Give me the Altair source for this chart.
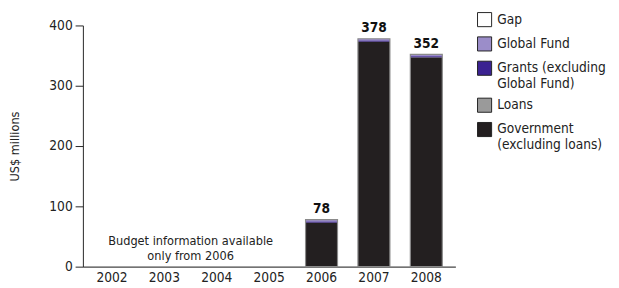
import altair as alt
import pandas as pd

years = ["2002", "2003", "2004", "2005", "2006", "2007", "2008"]
bar_years = ["2006", "2007", "2008"]
government = [73, 373, 347]
loans = [0, 0, 0]
grants = [2, 2, 2]
global_fund = [3, 3, 3]
gap = [0, 0, 0]
totals = [78, 378, 352]

series = ["Gap", "Global Fund", "Grants (excluding|Global Fund)", "Loans", "Government|(excluding loans)"]
colors = ["#ffffff", "#9b8dc9", "#3b2291", "#9a9a9a", "#231f20"]
stack_rank = {s: i for i, s in enumerate(reversed(series))}

rows = []
for i, y in enumerate(bar_years):
    for name, vals in zip(series, [gap, global_fund, grants, loans, government]):
        rows.append({"year": y, "series": name, "value": vals[i], "rank": stack_rank[name]})
df = pd.DataFrame(rows)
tot = pd.DataFrame({"year": bar_years, "total": totals})
note = pd.DataFrame({"year": ["2003"], "v": [43], "t": ["Budget information available|only from 2006"]})

FONT = "DejaVu Sans Condensed, Liberation Sans Narrow, sans-serif"
xscale = alt.Scale(domain=years, paddingInner=0.39, paddingOuter=0.25)

x = alt.X("year:N", scale=xscale,
          axis=alt.Axis(title=None, labelAngle=0, ticks=False, labelFontSize=14, labelPadding=4,
                        labelFont=FONT, labelColor="#222", domainColor="#444", domainWidth=1.5))

bars = alt.Chart(df).mark_bar(strokeWidth=0).encode(
    x=x,
    y=alt.Y("value:Q", stack="zero", scale=alt.Scale(domain=[0, 400]),
            axis=alt.Axis(title="US$ millions", values=[0, 100, 200, 300, 400], grid=False,
                          tickSize=8, tickColor="#222", domainColor="#222", labelFontSize=14,
                          labelFont=FONT, labelColor="#222", labelPadding=3,
                          titleFont=FONT, titleFontSize=13, titleFontWeight="normal",
                          titleColor="#222", titlePadding=28)),
    color=alt.Color("series:N", scale=alt.Scale(domain=series, range=colors),
                    legend=alt.Legend(title=None, orient="none", legendX=405, legendY=-14,
                                      symbolType="square", symbolSize=210, symbolStrokeColor="#222",
                                      symbolStrokeWidth=1, symbolOpacity=1, labelFont=FONT,
                                      labelFontSize=14, labelColor="#222", rowPadding=5,
                                      labelExpr="split(datum.label, '|')", labelLimit=300,
                                      labelOffset=5)),
    order=alt.Order("rank:Q", sort="ascending"),
)

outline = alt.Chart(tot).mark_bar(fill=None, stroke="#8a8a8a", strokeWidth=1.2).encode(
    x=alt.X("year:N", scale=xscale),
    y=alt.Y("total:Q"),
)

labels = alt.Chart(tot).mark_text(fontWeight="bold", fontSize=14, font=FONT, dy=-11, color="#111").encode(
    x=alt.X("year:N", scale=xscale),
    y=alt.Y("total:Q"),
    text="total:Q",
)

note_t = alt.Chart(note).mark_text(fontSize=13, font=FONT, color="#222", dx=27, lineHeight=16).encode(
    x=alt.X("year:N", scale=xscale),
    y=alt.Y("v:Q"),
    text=alt.Text("t:N"),
).transform_calculate(t="split(datum.t, '|')")

chart = alt.layer(bars, outline, labels, note_t).properties(
    width=383, height=248, background="white",
    padding={"top": 0, "left": 0, "right": 5, "bottom": 0}
).configure_view(stroke=None)

chart.save("out.html", embed_options={"renderer": "svg", "actions": False})
